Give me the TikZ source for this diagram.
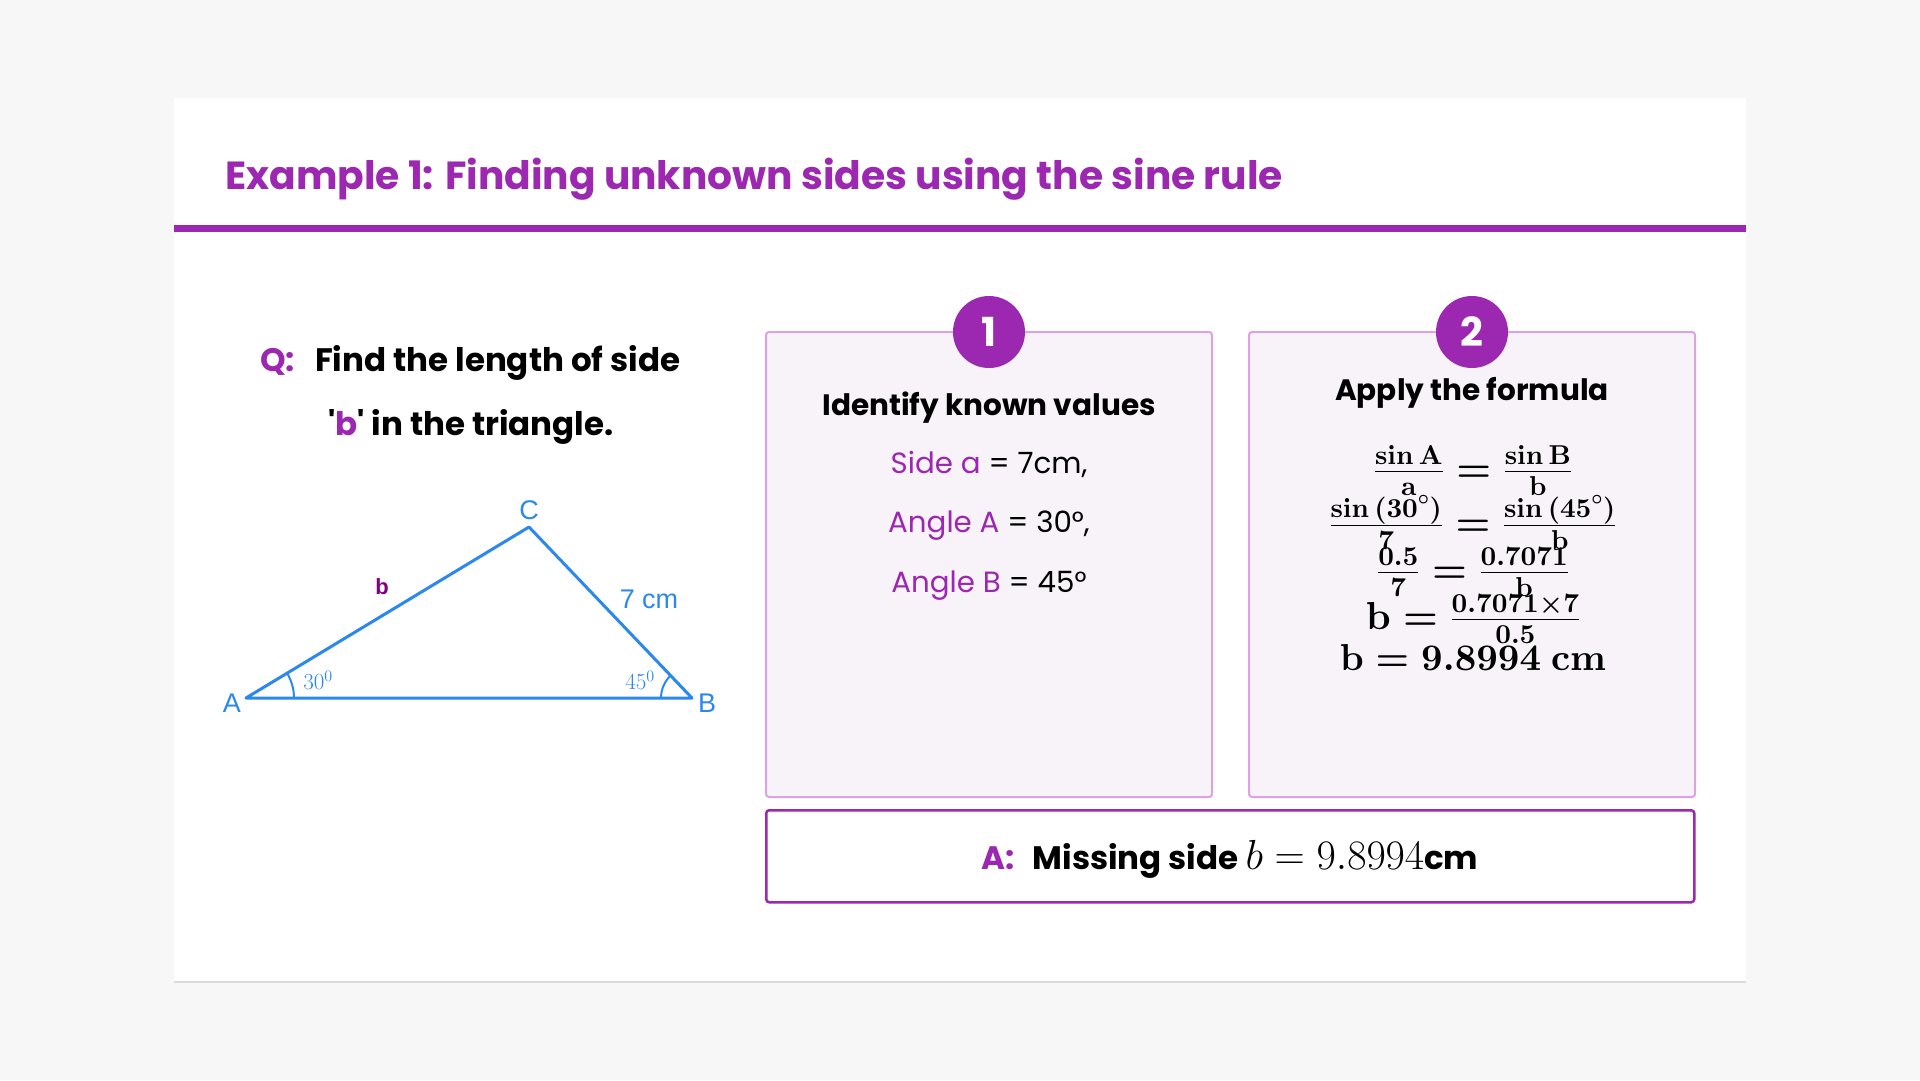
\RequirePackage{fix-cm}
\documentclass[tikz,border=0pt]{standalone}
\usepackage[no-math]{fontspec}
\setmainfont{Poppins}[Ligatures=TeXOff]
\newfontfamily\arialf{Liberation Sans}
\usetikzlibrary{calc}
\DeclareFontShape{OT1}{cmr}{bx}{n}{<->cmbx10}{}
\definecolor{purp}{HTML}{9C27B0}
\definecolor{boxfill}{HTML}{F8F3F9}
\definecolor{boxline}{HTML}{DBA3E0}
\definecolor{triblue}{HTML}{2A88EE}
\definecolor{darkpurp}{HTML}{800080}
\definecolor{pagebg}{HTML}{F7F7F7}
\newcommand{\fs}[1]{\fontsize{#1}{#1}\selectfont}
\newcommand{\mb}[1]{\mathbf{#1}}
\tikzset{
  stepbox/.style={draw=boxline, fill=boxfill, line width=2pt, rounded corners=3pt,
    minimum width=446pt, minimum height=465pt, anchor=north west, inner sep=0pt},
  stepnum/.style={circle, fill=purp, minimum size=72pt, inner sep=0pt, text=white,
    font=\bfseries\fs{40}},
  stephead/.style={anchor=base, font=\bfseries\fs{29.5}},
  stepval/.style={anchor=base, font=\fs{29.3}},
  mathline/.style={anchor=base, font=\fs{39}\boldmath},
  trilabel/.style={text=triblue, font=\arialf\fs{27}, inner sep=0pt},
  anglabel/.style={text=triblue, font=\fs{23}, inner sep=0pt},
}
\begin{document}
\begin{tikzpicture}[x=1pt,y=-1pt]
\useasboundingbox (0,0) rectangle (1920,1080);
\fill[pagebg] (0,0) rectangle (1920,1080);
% card
\fill[black!14] (174,99) rectangle (1746,983);
\fill[white] (174,98) rectangle (1746,981);
\fill[purp] (174,225) rectangle (1746,232);
\node[anchor=base west, text=purp, font=\bfseries\fs{39.2}, inner sep=0pt] (title) at (225,189)
  {Example 1: Finding unknown sides using the sine rule};
% question
\node[anchor=base west, text=purp, font=\bfseries\fs{32.5}, inner sep=0pt] (q) at (260,371) {Q:};
\node[anchor=base west, font=\bfseries\fs{32.5}, inner sep=0pt] (q1) at (315,371) {Find the length of side};
\node[anchor=base, font=\bfseries\fs{32.5}, inner sep=0pt] (q2) at (471,435) {'{\color{purp}b}' in the triangle.};
% triangle
\coordinate (A) at (246,698);
\coordinate (B) at (692,698);
\coordinate (C) at (529,527);
\draw[triblue, line width=3pt, line join=round] (A) -- (B) -- (C) -- cycle;
\draw[triblue, line width=2pt] ($(A)+(48,0)$) arc[start angle=0, end angle=-31, radius=48];
\draw[triblue, line width=2pt] ($(B)+(-31,0)$) arc[start angle=180, end angle=226, radius=31];
\node[trilabel] (lA) at (232,703) {A};
\node[trilabel] (lB) at (707,703) {B};
\node[trilabel] (lC) at (529,510) {C};
\node[trilabel] (l7) at (649,599) {7 cm};
\node[text=darkpurp, font=\arialf\bfseries\fs{22}, inner sep=0pt] (lb) at (382,587) {b};
\node[anglabel] (a30) at (318,680) {$30^{0}$};
\node[anglabel] (a45) at (640,680) {$45^{0}$};
% step 1
\node[stepbox] (box1) at (765,331) {};
\node[stepnum] (n1) at (989,332) {1};
\node[stephead] (h1) at (989,415) {Identify known values};
\node[stepval] (v1) at (989,473) {{\color{purp}Side a} = 7cm,};
\node[stepval] (v2) at (989,532) {{\color{purp}Angle A} = 30°,};
\node[stepval] (v3) at (989,592) {{\color{purp}Angle B} = 45°};
% step 2
\node[stepbox] (box2) at (1248,331) {};
\node[stepnum] (n2) at (1472,332) {2};
\node[stephead] (h2) at (1472,400) {Apply the formula};
\node[mathline] (m1) at (1473,481) {$\frac{\mb{sin\,A}}{\mb{a}} = \frac{\mb{sin\,B}}{\mb{b}}$};
\node[mathline] (m2) at (1473,535) {$\frac{\mb{sin\,(30}^\circ\mb{)}}{\mb{7}} = \frac{\mb{sin\,(45}^\circ\mb{)}}{\mb{b}}$};
\node[mathline] (m3) at (1473,582) {$\frac{\mb{0.5}}{\mb{7}} = \frac{\mb{0.7071}}{\mb{b}}$};
\node[mathline] (m4) at (1473,629) {$\mb{b} = \frac{\mb{0.7071}\times\mb{7}}{\mb{0.5}}$};
\node[mathline, font=\fs{37.5}\boldmath] (m5) at (1473,670) {$\mb{b} = \mb{9.8994\ cm}$};
% answer
\node[draw=purp, line width=2.5pt, rounded corners=3pt, fill=white, minimum width=928pt,
  minimum height=92pt, anchor=north west, inner sep=0pt] (ans) at (765,809) {};
\node[anchor=base, font=\bfseries\fs{32.5}, inner sep=0pt] (anstext) at (1230,869)
  {{\color{purp}A:}\hspace{0.55em}Missing side {\mdseries\fs{42}$b = 9.8994$}cm};
\end{tikzpicture}
\end{document}
